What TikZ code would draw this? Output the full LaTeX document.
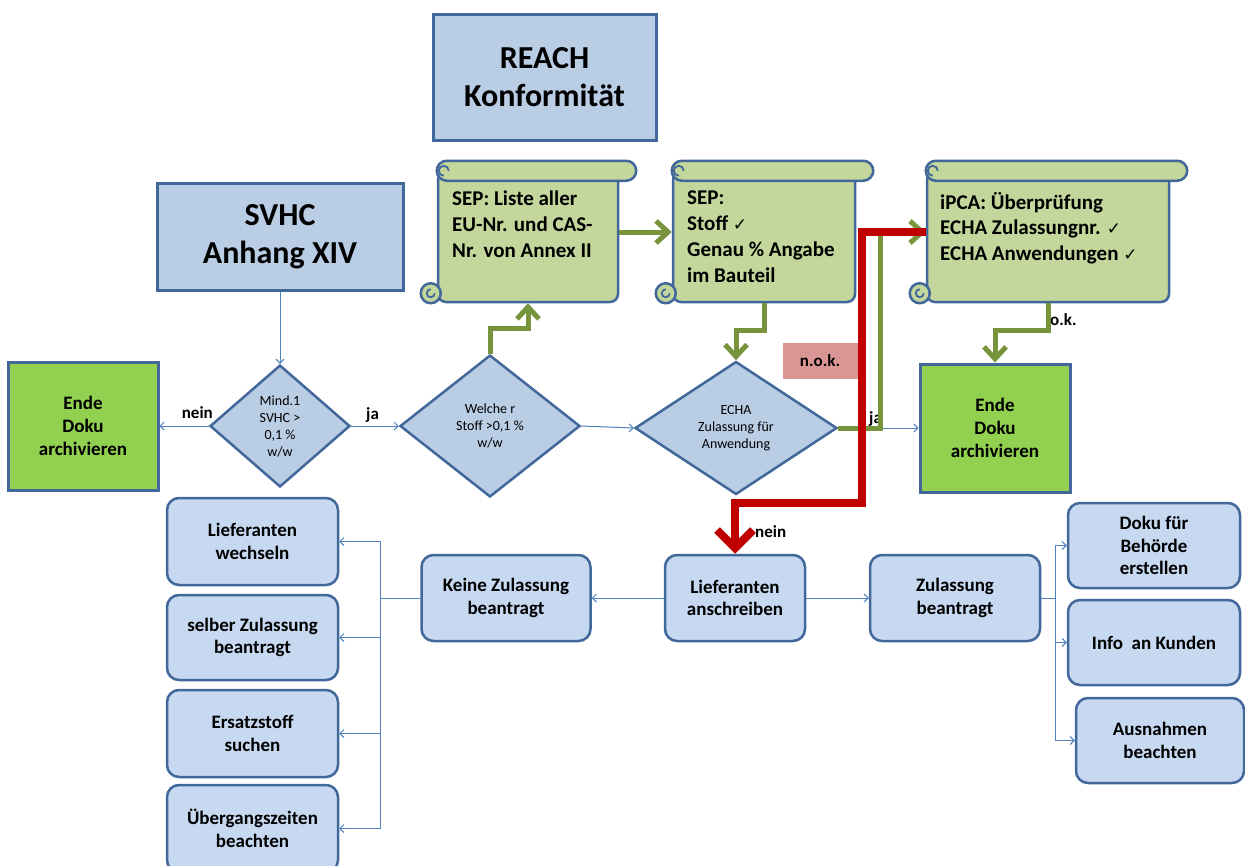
\documentclass[tikz,border=0pt]{standalone}
\usepackage{fontspec}
\setmainfont{Carlito}
\newfontfamily\symfont{DejaVu Sans}
\usetikzlibrary{arrows.meta,shapes.geometric,calc}
\definecolor{boxline}{HTML}{41679B}
\definecolor{titlefill}{HTML}{B9CDE5}
\definecolor{boxfill}{HTML}{C6D9F1}
\definecolor{endfill}{HTML}{92D050}
\definecolor{scrollfill}{HTML}{C3D69B}
\definecolor{scrl}{HTML}{41679B}
\definecolor{thinc}{HTML}{4F81BD}
\definecolor{garc}{HTML}{77933C}
\definecolor{redc}{HTML}{C00000}
\definecolor{nokfill}{HTML}{D99694}
\newcommand\ck{{\symfont\fontsize{17pt}{17pt}\selectfont ✓}}
\newcommand\scrolldeco[1]{%
  \draw[scrollpart] let \p1=(#1.north west), \p2=(#1.south east) in
    (\x1-6pt,\y2+10pt) circle[radius=10pt];
  \draw[draw=scrl, line width=1.8pt] let \p1=(#1.north west), \p2=(#1.south east) in
    (\x1-2pt,\y2+10pt) arc[start angle=0,end angle=-270,radius=4pt];
  \draw[scrollpart, rounded corners=10pt] let \p1=(#1.north west), \p2=(#1.south east) in
    (\x1,\y1+10pt) rectangle (\x2+17pt,\y1-10pt);
  \draw[draw=scrl, line width=1.8pt] let \p1=(#1.north west) in
    (\x1+12pt,\y1) arc[start angle=0,end angle=270,radius=5pt];
}
\tikzset{
  tbox/.style={draw=boxline, fill=titlefill, line width=3pt, align=center, inner sep=0pt,
    font=\bfseries\fontsize{32pt}{38pt}\selectfont},
  endbox/.style={draw=boxline, fill=endfill, line width=3pt, align=center, inner sep=0pt,
    font=\bfseries\fontsize{19pt}{23pt}\selectfont},
  rbox/.style={draw=boxline, fill=boxfill, line width=2.5pt, rounded corners=12pt, align=center,
    inner sep=0pt, font=\bfseries\fontsize{19pt}{22.5pt}\selectfont},
  dia/.style={diamond, draw=boxline, fill=titlefill, line width=2.5pt, align=center, inner sep=0pt,
    font=\fontsize{14pt}{17pt}\selectfont},
  scrollbody/.style={draw=scrl, fill=scrollfill, line width=2.5pt, rounded corners=8pt, inner sep=0pt},
  scrollpart/.style={draw=scrl, fill=scrollfill, line width=2.5pt},
  stext/.style={align=left, inner sep=0pt, font=\bfseries\fontsize{21pt}{25.7pt}\selectfont},
  thinline/.style={draw=thinc, line width=1pt},
  thinarrow/.style={thinline, -{Straight Barb[length=4pt,width=8pt]}},
  garrow/.style={draw=garc, line width=5pt, -{Straight Barb[length=12pt,width=22pt]}},
  rarrow/.style={draw=redc, line width=8pt, -{Straight Barb[length=18pt,width=36pt]}},
  lbl/.style={inner sep=0pt, font=\bfseries\fontsize{17pt}{20pt}\selectfont},
}
\begin{document}
\begin{tikzpicture}[x=1pt,y=-1pt]
\useasboundingbox (0,0) rectangle (1245,865);
\fill[white] (0,0) rectangle (1245,865);

% title boxes
\node[tbox, minimum width=223pt, minimum height=126pt] (reach) at (544.5,77) {REACH\\Konformität};
\node[tbox, minimum width=246pt, minimum height=107pt] (svhc) at (280,236.5) {SVHC\\Anhang XIV};

% scrolls
\node[scrollbody, minimum width=180pt, minimum height=130pt] (s1) at (528,237) {};
\scrolldeco{s1}
\node[stext, anchor=north west] (t1) at (452,191) {SEP: Liste aller\\EU-Nr. und CAS-\\Nr. von Annex II};

\node[scrollbody, minimum width=182pt, minimum height=130pt] (s2) at (764,237) {};
\scrolldeco{s2}
\node[stext, anchor=north west] (t2) at (687,191) {SEP:\\Stoff \ck\\Genau \% Angabe\\im Bauteil};

\node[scrollbody, minimum width=242pt, minimum height=130pt] (s3) at (1048,237) {};
\scrolldeco{s3}
\node[stext, anchor=north west] (t3) at (940,192) {iPCA: Überprüfung\\ECHA Zulassungnr. \ck\\ECHA Anwendungen \ck};

% end boxes
\node[endbox, minimum width=150pt, minimum height=128pt] (endeL) at (83,426) {Ende\\Doku\\archivieren};
\node[endbox, minimum width=150pt, minimum height=128pt] (endeR) at (995,428) {Ende\\Doku\\archivieren};

% diamonds
\node[dia, minimum width=140pt, minimum height=122pt] (d1) at (280,426) {Mind.1\\SVHC >\\0,1 \%\\w/w};
\node[dia, minimum width=180pt, minimum height=142pt] (d2) at (490,426) {Welche r\\Stoff >0,1 \%\\w/w};
\node[dia, minimum width=202pt, minimum height=133pt] (d3) at (736,428) {ECHA\\Zulassung für\\Anwendung};

% n.o.k.
\node[fill=nokfill, minimum width=75pt, minimum height=36pt, inner sep=0pt,
  font=\bfseries\fontsize{17pt}{20pt}\selectfont] (nok) at (820,361) {n.o.k.};

% rounded boxes
\node[rbox, minimum width=140pt, minimum height=86pt] (LA) at (735,598) {Lieferanten\\anschreiben};
\node[rbox, minimum width=169pt, minimum height=86pt] (KZ) at (506,598) {Keine Zulassung\\beantragt};
\node[rbox, minimum width=170pt, minimum height=86pt] (ZB) at (955,598) {Zulassung\\beantragt};
\node[rbox, minimum width=171pt, minimum height=87pt] (LW) at (252.5,541.5) {Lieferanten\\wechseln};
\node[rbox, minimum width=171pt, minimum height=85pt] (SZ) at (252.5,637.5) {selber Zulassung\\beantragt};
\node[rbox, minimum width=171pt, minimum height=87pt] (ES) at (252.5,733.5) {Ersatzstoff\\suchen};
\node[rbox, minimum width=171pt, minimum height=87pt] (UZ) at (252.5,828.5) {Übergangszeiten\\beachten};
\node[rbox, minimum width=172pt, minimum height=85pt] (DB) at (1154,545.5) {Doku für\\Behörde\\erstellen};
\node[rbox, minimum width=172pt, minimum height=85pt] (IK) at (1154,642.5) {Info\ \ an Kunden};
\node[rbox, minimum width=168pt, minimum height=85pt] (AB) at (1160,740.5) {Ausnahmen\\beachten};

% labels
\node[lbl, anchor=base east] (lnein1) at (213,418) {nein};
\node[lbl, anchor=base west] (lja1) at (366,419) {ja};
\node[lbl, anchor=base west] (lja2) at (869,423) {ja};
\node[lbl, anchor=base west] (lok) at (1050,325) {o.k.};
\node[lbl, anchor=base west] (lnein2) at (755,537) {nein};

% thin connectors
\draw[thinarrow] (svhc.south) -- (d1.north);
\draw[thinarrow] (d1.west) -- (endeL.east);
\draw[thinarrow] (d1.east) -- (d2.west);
\draw[thinarrow] (d2.east) -- (d3.west);
\draw[thinarrow] (d3.east) -- (endeR.west);
\draw[thinarrow] (LA.west) -- (KZ.east);
\draw[thinarrow] (LA.east) -- (ZB.west);
\coordinate (kj) at (380,598);
\draw[thinline] (KZ.west) -- (kj);
\draw[thinarrow] (kj) |- (LW.east);
\draw[thinarrow] (kj) |- (SZ.east);
\draw[thinarrow] (kj) |- (ES.east);
\draw[thinarrow] (kj) |- (UZ.east);
\coordinate (zj) at (1055,598);
\draw[thinline] (ZB.east) -- (zj);
\draw[thinarrow] (zj) |- (DB.west);
\draw[thinarrow] (zj) |- (IK.west);
\draw[thinarrow] (zj) |- (AB.west);

% green arrows
\coordinate (g1) at (490,328);
\draw[garrow] (d2.north) -- (g1) -| (s1.south);
\draw[garrow] ([yshift=5pt]s1.east) -- ([yshift=5pt]s2.west);
\coordinate (g2) at (764,330);
\draw[garrow] (s2.south) -- (g2) -| (d3.north);
\coordinate (g3) at (880,428);
\draw[garrow] (d3.east) -- (g3) |- ([yshift=5pt]s3.west);
\coordinate (g4) at (1048,330);
\draw[garrow] (s3.south) -- (g4) -| (endeR.north);

% red arrow
\coordinate (r1) at (862,503);
\draw[rarrow] ([yshift=5pt]s3.west) -| (r1) -| (LA.north);
\end{tikzpicture}
\end{document}
